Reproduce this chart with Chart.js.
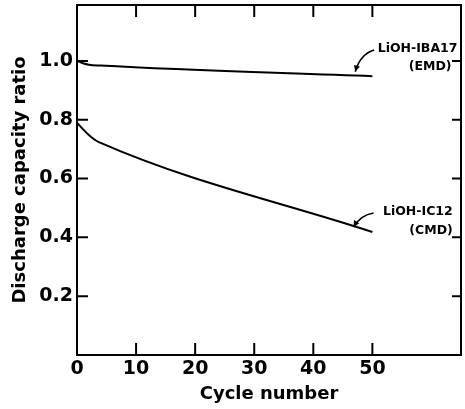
<!DOCTYPE html>
<html>
<head>
<meta charset="utf-8">
<script src="https://cdn.jsdelivr.net/npm/chart.js@4/dist/chart.umd.min.js"></script>
<style>
  html, body { margin: 0; padding: 0; background: #fff; }
  #wrap { width: 465px; height: 409px; }
</style>
</head>
<body>
<div id="wrap"><canvas id="chart"></canvas></div>
<script>
// values
var ibaCycles = [0, 1, 2, 4, 50];
var ibaRatio = [1.0, 0.992, 0.987, 0.984, 0.948];
var icCycles = [0, 1, 2, 3, 4, 50];
var icRatio = [0.79, 0.768, 0.748, 0.732, 0.721, 0.418];

var xTicks = [0, 10, 20, 30, 40, 50];
var yTicks = [0.2, 0.4, 0.6, 0.8, 1.0];

// series labels and their arrows, in data units
var labels = [
    { text: "LiOH-IBA17", x: 64.4, y: 1.041 },
    { text: "(EMD)", x: 63.4, y: 0.98 },
    { text: "LiOH-IC12", x: 63.6, y: 0.486 },
    { text: "(CMD)", x: 63.6, y: 0.422 }
];
var arrows = [
    { from: [50.3, 1.037], ctrl: [47.9, 1.022], to: [47.1, 0.963] },
    { from: [50.2, 0.483], ctrl: [48.0, 0.476], to: [46.8, 0.435] }
];

function toPoints(xs, ys) {
    return xs.map(function (x, i) { return { x: x, y: ys[i] }; });
}

var font = "'DejaVu Sans', Verdana, sans-serif";

var framePlugin = {
    id: "frame",
    afterDatasetsDraw: function (chart) {
        var ctx = chart.ctx;
        var a = chart.chartArea;
        var xs = chart.scales.x, ys = chart.scales.y;
        ctx.save();
        ctx.strokeStyle = "#000";
        ctx.lineWidth = 2;
        ctx.strokeRect(a.left, a.top, a.right - a.left, a.bottom - a.top);
        ctx.beginPath();
        xTicks.forEach(function (v) {
            if (v === 0) return;
            var px = xs.getPixelForValue(v);
            ctx.moveTo(px, a.bottom); ctx.lineTo(px, a.bottom - 12);
            ctx.moveTo(px, a.top); ctx.lineTo(px, a.top + 12);
        });
        yTicks.forEach(function (v) {
            var py = ys.getPixelForValue(v);
            ctx.moveTo(a.left, py); ctx.lineTo(a.left + 11, py);
            ctx.moveTo(a.right, py); ctx.lineTo(a.right - 9, py);
        });
        ctx.stroke();

        // labels
        ctx.fillStyle = "#000";
        ctx.font = "bold 12.5px " + font;
        ctx.textAlign = "right";
        ctx.textBaseline = "middle";
        labels.forEach(function (l) {
            ctx.fillText(l.text, xs.getPixelForValue(l.x), ys.getPixelForValue(l.y));
        });

        // arrows
        ctx.lineWidth = 1.6;
        arrows.forEach(function (ar) {
            var fx = xs.getPixelForValue(ar.from[0]), fy = ys.getPixelForValue(ar.from[1]);
            var cx = xs.getPixelForValue(ar.ctrl[0]), cy = ys.getPixelForValue(ar.ctrl[1]);
            var tx = xs.getPixelForValue(ar.to[0]), ty = ys.getPixelForValue(ar.to[1]);
            ctx.beginPath();
            ctx.moveTo(fx, fy);
            ctx.quadraticCurveTo(cx, cy, tx, ty);
            ctx.stroke();
            var ang = Math.atan2(ty - cy, tx - cx);
            var len = 7;
            ctx.beginPath();
            ctx.moveTo(tx, ty);
            ctx.lineTo(tx - len * Math.cos(ang - 0.45), ty - len * Math.sin(ang - 0.45));
            ctx.lineTo(tx - len * Math.cos(ang + 0.45), ty - len * Math.sin(ang + 0.45));
            ctx.closePath();
            ctx.fill();
        });
        ctx.restore();
    }
};

new Chart("chart", {
    type: "line",
    data: {
        datasets: [{
            label: "LiOH-IBA17 (EMD)",
            data: toPoints(ibaCycles, ibaRatio),
            borderColor: "#000",
            borderWidth: 2,
            pointRadius: 0,
            cubicInterpolationMode: "monotone",
            fill: false
        }, {
            label: "LiOH-IC12 (CMD)",
            data: toPoints(icCycles, icRatio),
            borderColor: "#000",
            borderWidth: 2,
            pointRadius: 0,
            cubicInterpolationMode: "monotone",
            fill: false
        }]
    },
    options: {
        responsive: true,
        maintainAspectRatio: false,
        animation: false,
        events: [],
        layout: { padding: { top: 5, right: 4, left: 0, bottom: 0 } },
        plugins: {
            legend: { display: false },
            tooltip: { enabled: false }
        },
        scales: {
            x: {
                type: "linear",
                min: 0,
                max: 65,
                grid: { display: false, drawTicks: false },
                border: { display: false },
                afterBuildTicks: function (s) {
                    s.ticks = xTicks.map(function (v) { return { value: v }; });
                },
                afterFit: function (s) { s.height = 54; },
                ticks: {
                    color: "#000",
                    padding: 3,
                    maxRotation: 0,
                    font: { family: font, size: 19, weight: "bold" }
                },
                title: {
                    display: true,
                    text: "Cycle number",
                    color: "#000",
                    padding: { top: 0, bottom: 4 },
                    font: { family: font, size: 18, weight: "bold" }
                }
            },
            y: {
                type: "linear",
                min: 0,
                max: 1.19,
                grid: { display: false, drawTicks: false },
                border: { display: false },
                afterBuildTicks: function (s) {
                    s.ticks = yTicks.map(function (v) { return { value: v }; });
                },
                afterFit: function (s) {
                    s.width = 77;
                    s.paddingTop = 0;
                    s.paddingBottom = 0;
                },
                ticks: {
                    color: "#000",
                    padding: 4,
                    font: { family: font, size: 19, weight: "bold" },
                    callback: function (v) { return v.toFixed(1); }
                },
                title: {
                    display: true,
                    text: "Discharge capacity ratio",
                    color: "#000",
                    padding: { top: 10, bottom: 0 },
                    font: { family: font, size: 18, weight: "bold" }
                }
            }
        }
    },
    plugins: [framePlugin]
});
</script>
</body>
</html>
